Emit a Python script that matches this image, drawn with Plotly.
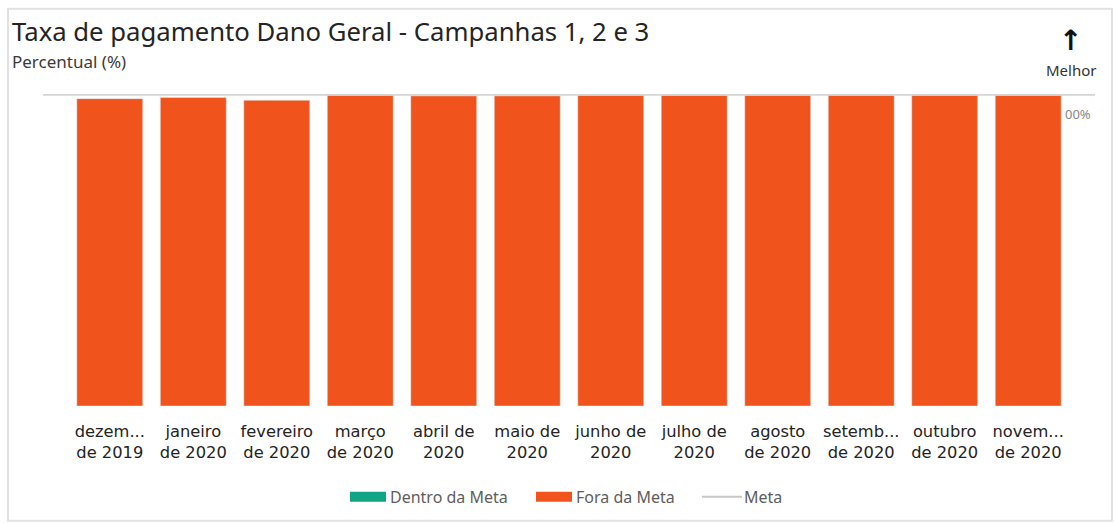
import plotly.graph_objects as go

categories = ["dezem...<br>de 2019", "janeiro<br>de 2020", "fevereiro<br>de 2020", "março<br>de 2020",
              "abril de<br>2020", "maio de<br>2020", "junho de<br>2020", "julho de<br>2020",
              "agosto<br>de 2020", "setemb...<br>de 2020", "outubro<br>de 2020", "novem...<br>de 2020"]
fora_da_meta = [98.7, 99.1, 98.2, 99.8, 99.6, 99.6, 99.8, 99.8, 99.8, 99.8, 99.8, 99.8]
dentro_da_meta = [None] * 12
meta_value = 100
legend_names = ["Dentro da Meta", "Fora da Meta", "Meta"]

ORANGE = "#F0531C"
TEAL = "#12A585"
GREY = "#C8C6C4"

W, H = 1114, 523
ML, MR, MT, MB = 43, 19, 93.5, 117
PW, PH = W - ML - MR, H - MT - MB


def px(x):
    return (x - ML) / PW


def py(y):
    return (H - MB - y) / PH


fig = go.Figure()
fig.add_trace(go.Bar(x=categories, y=dentro_da_meta, name=legend_names[0], marker_color=TEAL))
fig.add_trace(go.Bar(x=categories, y=fora_da_meta, name=legend_names[1], marker_color=ORANGE))

fig.add_shape(type="line", xref="paper", yref="y", x0=0, x1=1, y0=meta_value, y1=meta_value,
              line=dict(color="#D6D5D3", width=2.5), layer="above")
fig.add_annotation(xref="paper", yref="y", x=px(1063), y=meta_value, text="00%", showarrow=False,
                   xanchor="left", yanchor="top", yshift=-8,
                   font=dict(family="Noto Sans", size=13, color="#8A8886"))

# frame
fig.add_shape(type="rect", xref="paper", yref="paper",
              x0=px(8), x1=px(1112), y0=py(521), y1=py(8),
              line=dict(color="#E1E1E1", width=2), layer="below")

fig.add_annotation(xref="paper", yref="paper", x=px(10), y=py(31),
                   text="Taxa de pagamento Dano Geral - Campanhas 1, 2 e 3", showarrow=False,
                   xanchor="left", yanchor="middle", font=dict(family="Noto Sans", size=25.7, color="#252423"))
fig.add_annotation(xref="paper", yref="paper", x=px(10), y=py(61),
                   text="Percentual (%)", showarrow=False,
                   xanchor="left", yanchor="middle", font=dict(family="Noto Sans", size=17, color="#3B3A39"))
fig.add_annotation(xref="paper", yref="paper", x=px(1070), y=py(40),
                   text="<b>↑</b>", showarrow=False,
                   xanchor="center", yanchor="middle", font=dict(family="DejaVu Sans", size=28, color="#111111"))
fig.add_annotation(xref="paper", yref="paper", x=px(1071), y=py(69),
                   text="Melhor", showarrow=False,
                   xanchor="center", yanchor="middle", font=dict(family="Noto Sans", size=15, color="#333333"))

# manual legend (wide swatches)
legend_font = dict(family="Noto Sans", size=16, color="#605E5C")
fig.add_shape(type="rect", xref="paper", yref="paper", x0=px(350), x1=px(386), y0=py(502), y1=py(492),
              fillcolor=TEAL, line=dict(width=0))
fig.add_annotation(xref="paper", yref="paper", x=px(388), y=py(497), text=legend_names[0], showarrow=False,
                   xanchor="left", yanchor="middle", font=legend_font)
fig.add_shape(type="rect", xref="paper", yref="paper", x0=px(536), x1=px(572), y0=py(502), y1=py(492),
              fillcolor=ORANGE, line=dict(width=0))
fig.add_annotation(xref="paper", yref="paper", x=px(574), y=py(497), text=legend_names[1], showarrow=False,
                   xanchor="left", yanchor="middle", font=legend_font)
fig.add_shape(type="line", xref="paper", yref="paper", x0=px(702), x1=px(742), y0=py(497), y1=py(497),
              line=dict(color=GREY, width=2))
fig.add_annotation(xref="paper", yref="paper", x=px(742), y=py(497), text=legend_names[2], showarrow=False,
                   xanchor="left", yanchor="middle", font=legend_font)

fig.update_layout(
    width=W, height=H,
    margin=dict(l=ML, r=MR, t=MT, b=MB),
    plot_bgcolor="white", paper_bgcolor="white",
    barmode="overlay", bargap=0.21,
    showlegend=False,
    xaxis=dict(range=[-0.8, 11.8], showgrid=False, zeroline=False, showline=False,
               ticks="outside", ticklen=10, tickcolor="rgba(0,0,0,0)",
               tickfont=dict(family="DejaVu Sans", size=16.3, color="#252423")),
    yaxis=dict(range=[0, 100.2], visible=False),
)

fig.write_html("out.html", config={"displayModeBar": False},
               post_script="document.body.style.margin='0';")
